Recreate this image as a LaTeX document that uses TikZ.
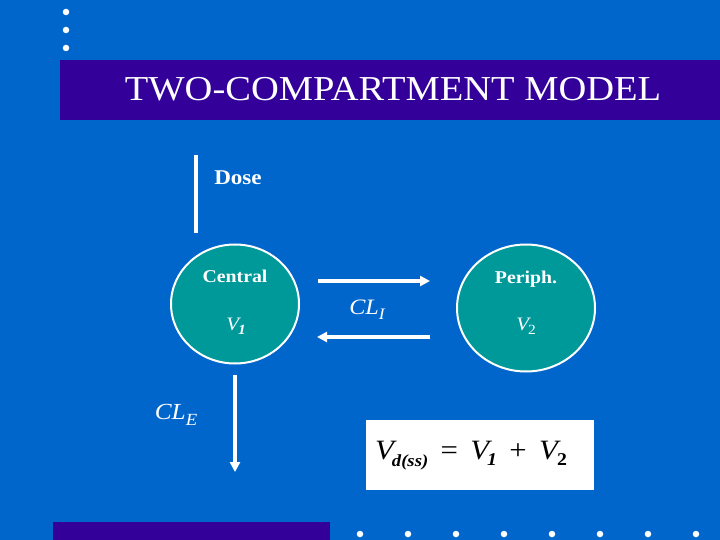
\documentclass[tikz,border=0pt]{standalone}
\usepackage{fontspec}
\setmainfont{Liberation Serif}[FakeStretch=1.1]
\usetikzlibrary{arrows.meta,shapes.geometric}
\definecolor{bg}{RGB}{0,102,204}
\definecolor{barc}{RGB}{51,0,153}
\definecolor{tealc}{RGB}{0,153,153}
\tikzset{
  comp/.style={ellipse, fill=tealc, draw=white, line width=2pt, inner sep=0pt},
  wtext/.style={text=white, inner sep=0pt},
  flow/.style={draw=white, line width=3.5pt, -{Triangle[length=10pt,width=10pt]}},
  dot/.style={circle, fill=white, inner sep=0pt, minimum size=6.5pt}
}
\begin{document}
\begin{tikzpicture}[x=1pt,y=-1pt]
\fill[bg] (0,0) rectangle (720,540);
\useasboundingbox (0,0) rectangle (720,540);
% top dots
\foreach \yy [count=\i] in {12,30,48} \node[dot] (td\i) at (66,\yy) {};
% title bar
\node[fill=barc, minimum width=660pt, minimum height=60pt, inner sep=0pt, anchor=north west] (titlebar) at (60,60) {};
\node[wtext, font=\fontsize{35}{40}\selectfont] (title) at (393,89) {TWO-COMPARTMENT MODEL};
% bottom bar and dots
\node[fill=barc, minimum width=277pt, minimum height=20pt, inner sep=0pt, anchor=north west] (botbar) at (53,522) {};
\foreach \xx [count=\i] in {360,408,456,504,552,600,648,696} \node[dot] (bd\i) at (\xx,534) {};
% dose
\coordinate (dtop) at (196,155);
\coordinate (dbot) at (196,233);
\draw[white, line width=3.5pt] (dtop) -- (dbot);
\node[wtext, font=\fontsize{21}{24}\selectfont\bfseries] (dose) at (238,178) {Dose};
% compartments
\node[comp, minimum width=128pt, minimum height=119pt] (central) at (235,304) {};
\node[comp, minimum width=138pt, minimum height=127pt] (periph) at (526,308) {};
\node[wtext, font=\fontsize{18}{20}\selectfont\bfseries] (ctext) at (235,276) {Central};
\node[wtext, font=\fontsize{18}{20}\selectfont\bfseries] (ptext) at (526,279) {Periph.};
\node[wtext, font=\fontsize{19}{21}\selectfont\itshape] (v1) at (236,326) {V\kern-1pt\raisebox{-4pt}{\fontsize{14}{16}\selectfont\bfseries\itshape 1}};
\node[wtext, font=\fontsize{19}{21}\selectfont\itshape] (v2) at (526,326) {V\kern-1pt\raisebox{-4pt}{\fontsize{14}{16}\selectfont\upshape 2}};
% exchange arrows
\coordinate (r1) at (318,281);
\coordinate (r2) at (430,281);
\coordinate (l1) at (430,337);
\coordinate (l2) at (317,337);
\draw[flow] (r1) -- (r2);
\draw[flow] (l1) -- (l2);
\node[wtext, font=\fontsize{22}{24}\selectfont\itshape] (cli) at (367,310) {CL\raisebox{-5pt}{\fontsize{16}{18}\selectfont I}};
% elimination
\coordinate (e1) at (235,375);
\coordinate (e2) at (235,472);
\draw[flow] (e1) -- (e2);
\node[wtext, font=\fontsize{23}{25}\selectfont\itshape] (cle) at (176,415) {CL\raisebox{-6pt}{\fontsize{17}{19}\selectfont E}};
% formula box
\node[fill=white, minimum width=228pt, minimum height=70pt, inner sep=0pt, anchor=north west] (fbox) at (366,420) {};
\node[inner sep=0pt, text=black, font=\fontsize{28}{30}\selectfont] (formula) at (471,456)
 {\itshape V\kern-2pt\raisebox{-7pt}{\fontsize{17}{20}\selectfont\bfseries\itshape d(ss)}\upshape\ \,=\ \,\itshape V\kern-2pt\raisebox{-6pt}{\fontsize{18}{20}\selectfont\bfseries\itshape 1}\upshape\ \,+\ \,\itshape V\kern-1pt\raisebox{-6pt}{\fontsize{18}{20}\selectfont\bfseries\upshape 2}};
\end{tikzpicture}
\end{document}
